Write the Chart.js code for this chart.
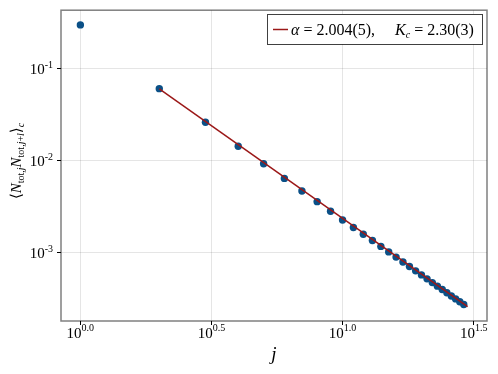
<!DOCTYPE html>
<html>
<head>
<meta charset="utf-8">
<script src="https://cdn.jsdelivr.net/npm/chart.js@4.4.1/dist/chart.umd.min.js"></script>
<style>
html,body{margin:0;padding:0;background:#fff;}
#wrap{width:498px;height:374px;position:relative;}
</style>
</head>
<body>
<div id="wrap"><canvas id="c" width="498" height="374"></canvas></div>
<script>
// ---- data ----
const jValues = [1,2,3,4,5,6,7,8,9,10,11,12,13,14,15,16,17,18,19,20,21,22,23,24,25,26,27,28,29];
const corrValues = [0.300,0.0607,0.0262,0.01436,0.00924,0.00641,0.00467,0.00358,0.00281,0.00226,
  0.00187,0.00158,0.001353,0.001166,0.001016,0.000892,0.000790,0.000705,0.000632,0.000571,
  0.000517,0.000471,0.000431,0.000396,0.000365,0.000337,0.000313,0.000291,0.000272];
const fitJ = [2,30];
const fitValues = [0.0605,0.000258];
const xTickExps = ["0.0","0.5","1.0","1.5"];
const xTickValues = [1,3.1623,10,31.623];
const yTickExps = ["-1","-2","-3"];
const yTickValues = [0.1,0.01,0.001];
const legendLabel = {a:"α", mid:" = 2.004(5),", k:"K", sub:"c", post:" = 2.30(3)"};

const SERIF = '"Liberation Serif", "DejaVu Serif", serif';
const pointColor = 'rgb(10,80,135)';
const lineColor = '#9b1818';

const overlay = {
  id:'overlay',
  afterDraw(chart){
    const ctx = chart.ctx, a = chart.chartArea;
    const xs = chart.scales.x, ys = chart.scales.y;
    ctx.save();
    ctx.textBaseline='alphabetic';
    // frame
    ctx.strokeStyle = 'rgba(0,0,0,0.5)';
    ctx.lineWidth = 1.5;
    ctx.strokeRect(a.left, a.top, a.right-a.left, a.bottom-a.top);
    ctx.fillStyle = '#000';
    // x tick labels
    xTickValues.forEach((v,i)=>{
      const px = xs.getPixelForValue(v);
      ctx.font = '15px '+SERIF;
      const w1 = ctx.measureText('10').width;
      ctx.font = '10px '+SERIF;
      const w2 = ctx.measureText(xTickExps[i]).width;
      const x0 = px - (w1+w2)/2;
      ctx.textAlign='left';
      ctx.font = '15px '+SERIF;
      ctx.fillText('10', x0, 338);
      ctx.font = '10px '+SERIF;
      ctx.fillText(xTickExps[i], x0+w1, 331);
    });
    // y tick labels
    yTickValues.forEach((v,i)=>{
      const py = ys.getPixelForValue(v);
      ctx.font = '10px '+SERIF;
      const w2 = ctx.measureText(yTickExps[i]).width;
      ctx.font = '15px '+SERIF;
      const w1 = ctx.measureText('10').width;
      const xr = 53;
      ctx.textAlign='left';
      ctx.fillText('10', xr-w2-w1, py+5);
      ctx.font = '10px '+SERIF;
      ctx.fillText(yTickExps[i], xr-w2, py-1);
    });
    // x title
    ctx.font = 'italic 19px '+SERIF;
    ctx.textAlign='center';
    ctx.fillText('j', (a.left+a.right)/2, 360);
    // y title
    ctx.save();
    ctx.translate(21, 161);
    ctx.rotate(-Math.PI/2);
    const parts = [
      {t:'⟨', f:'15px', dy:0},
      {t:'N', f:'italic 15px', dy:0},
      {t:'tot,', f:'10px', dy:3},
      {t:'j', f:'italic 10px', dy:3},
      {t:'N', f:'italic 15px', dy:0},
      {t:'tot,', f:'10px', dy:3},
      {t:'j', f:'italic 10px', dy:3},
      {t:'+', f:'10px', dy:3},
      {t:'l', f:'italic 10px', dy:3},
      {t:'⟩', f:'15px', dy:0},
      {t:'c', f:'italic 10px', dy:3}
    ];
    let tw = 0;
    parts.forEach(p=>{ctx.font=p.f+' '+SERIF; p.w=ctx.measureText(p.t).width; tw+=p.w;});
    let cx = -tw/2;
    ctx.textAlign='left';
    parts.forEach(p=>{ctx.font=p.f+' '+SERIF; ctx.fillText(p.t, cx, p.dy); cx+=p.w;});
    ctx.restore();
    // legend
    const lx=267, ly=14, lw=215, lh=30;
    ctx.fillStyle='#fff';
    ctx.fillRect(lx,ly,lw,lh);
    ctx.strokeStyle='rgba(0,0,0,0.75)';
    ctx.lineWidth=1;
    ctx.strokeRect(lx+0.5,ly+0.5,lw,lh);
    ctx.strokeStyle=lineColor; ctx.lineWidth=1.5;
    ctx.beginPath(); ctx.moveTo(273,29.5); ctx.lineTo(288,29.5); ctx.stroke();
    ctx.fillStyle='#000';
    ctx.textAlign='left';
    let tx = 291;
    const by = 35;
    ctx.font='italic 16px '+SERIF; ctx.fillText(legendLabel.a, tx, by); tx+=ctx.measureText(legendLabel.a).width;
    ctx.font='16px '+SERIF; ctx.fillText(legendLabel.mid, tx, by); tx+=ctx.measureText(legendLabel.mid).width+20;
    ctx.font='italic 16px '+SERIF; ctx.fillText(legendLabel.k, tx, by); tx+=ctx.measureText(legendLabel.k).width;
    ctx.font='italic 10px '+SERIF; ctx.fillText(legendLabel.sub, tx, by+3); tx+=ctx.measureText(legendLabel.sub).width;
    ctx.font='16px '+SERIF; ctx.fillText(legendLabel.post, tx, by);
    ctx.restore();
  }
};

new Chart(document.getElementById('c'), {
  type:'scatter',
  data:{
    datasets:[
      {
        type:'line',
        label:'fit',
        data: fitJ.map((x,i)=>({x, y:fitValues[i]})),
        borderColor: lineColor,
        borderWidth: 1.5,
        pointRadius: 0,
        fill:false,
        order: 0
      },
      {
        label:'data',
        data: jValues.map((x,i)=>({x, y:corrValues[i]})),
        backgroundColor: pointColor,
        borderColor: pointColor,
        borderWidth: 0,
        pointRadius: 3.7,
        order: 1
      }
    ]
  },
  options:{
    responsive:false,
    animation:false,
    devicePixelRatio:1,
    layout:{padding:{top:9,right:11,left:0,bottom:0}},
    plugins:{legend:{display:false}, tooltip:{enabled:false}},
    scales:{
      x:{
        type:'logarithmic',
        min: Math.pow(10,-0.0739),
        max: Math.pow(10,1.551),
        afterBuildTicks: s=>{ s.ticks = xTickValues.map(v=>({value:v})); },
        afterFit: s=>{ s.height = 53; },
        ticks:{callback:()=> '', autoSkip:false, maxRotation:0},
        grid:{color:'rgba(0,0,0,0.1)', lineWidth:1, drawTicks:true, tickLength:4, tickColor:'#000'},
        border:{display:false}
      },
      y:{
        type:'logarithmic',
        min: Math.pow(10,-3.745),
        max: Math.pow(10,-0.363),
        afterBuildTicks: s=>{ s.ticks = yTickValues.map(v=>({value:v})); },
        afterFit: s=>{ s.width = 61; },
        ticks:{callback:()=> '', autoSkip:false},
        grid:{color:'rgba(0,0,0,0.1)', lineWidth:1, drawTicks:true, tickLength:4, tickColor:'#000'},
        border:{display:false}
      }
    }
  },
  plugins:[overlay]
});
</script>
</body>
</html>
